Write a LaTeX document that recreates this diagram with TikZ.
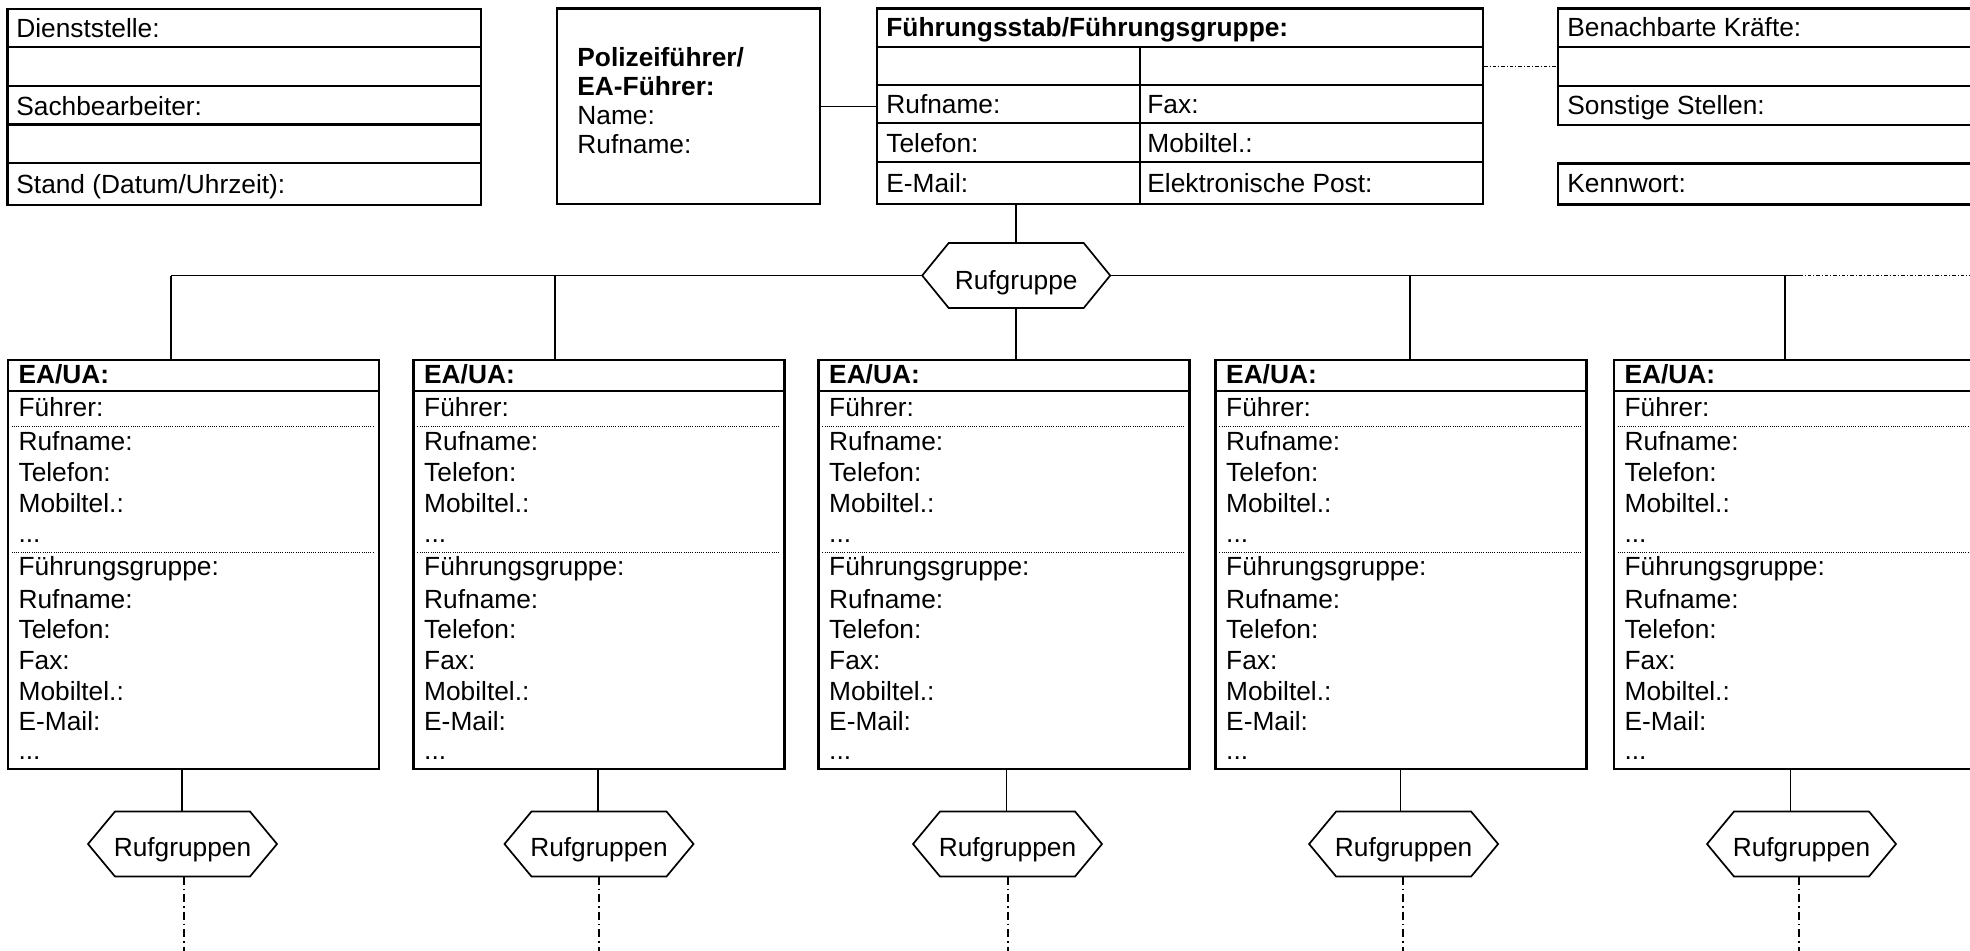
\documentclass[tikz,border=0pt]{standalone}
\usepackage{fontspec}
\setmainfont{Liberation Sans}
\newcommand\dfont{\fontsize{13.15}{15}\selectfont}
\newcommand\tridots{...}
\begin{document}
\begin{tikzpicture}[x=0.5pt,y=-0.5pt,
  box/.style={draw, line width=1.2pt, rectangle, inner sep=0pt, anchor=north west},
  rowline/.style={line width=1.2pt},
  conn/.style={line width=0.75pt},
  hexline/.style={line width=0.85pt, line join=miter},
  ddfine/.style={line width=0.5pt, dash pattern=on 1.75pt off 1pt on 0.5pt off 1pt},
  ddbig/.style={line width=0.7pt, dash pattern=on 4pt off 2pt on 0.75pt off 2pt},
  dotline/.style={line width=0.45pt, dash pattern=on 0.5pt off 0.6pt},
  txt/.style={anchor=base west, inner sep=0pt, font=\dfont},
  btxt/.style={anchor=base west, inner sep=0pt, font=\dfont\bfseries},
  hexbox/.style={minimum width=67.5pt, minimum height=32.5pt, inner sep=0pt},
  hextxt/.style={anchor=base, inner sep=0pt, font=\dfont}
]
\clip (0,0) rectangle (1970,950);
\fill[white] (0,0) rectangle (1970,950);

% --- box Dienststelle
\node[box, minimum width=236.6pt, minimum height=98pt] (ds) at (6.4,8) {};
\foreach \y in {47,86,124.5,163} \draw[rowline] (6.4,\y) -- (479.6,\y);
\node[txt] (ds1) at (16,37.5) {Dienststelle:};
\node[txt] (ds2) at (16,115) {Sachbearbeiter:};
\node[txt] (ds3) at (16,193) {Stand (Datum/Uhrzeit):};

% --- box Polizeifuehrer
\node[box, minimum width=131.5pt, minimum height=97.85pt] (pf) at (556,7.3) {};
\node[btxt] (pf1) at (577,66) {Polizeiführer/};
\node[btxt] (pf2) at (577,95) {EA-Führer:};
\node[txt] (pf3) at (577,124) {Name:};
\node[txt] (pf4) at (577,153) {Rufname:};

% --- box Fuehrungsstab
\node[box, minimum width=303.2pt, minimum height=97.85pt] (fs) at (875.6,7.3) {};
\foreach \y in {46.7,85,123,162} \draw[rowline] (875.6,\y) -- (1482,\y);
\draw[rowline] (1140,46.7) -- (1140,203.15);
\node[btxt] (fs0) at (886,36.5) {Führungsstab/Führungsgruppe:};
\node[txt] (fs1) at (886,113.5) {Rufname:};
\node[txt] (fs2) at (1147,113.5) {Fax:};
\node[txt] (fs3) at (886,152) {Telefon:};
\node[txt] (fs4) at (1147,152) {Mobiltel.:};
\node[txt] (fs5) at (886,192) {E-Mail:};
\node[txt] (fs6) at (1147,192) {Elektronische Post:};

% --- boxes right
\node[box, minimum width=225pt, minimum height=58.35pt] (bk) at (1556.6,7.3) {};
\foreach \y in {46.7,85.7} \draw[rowline] (1556.6,\y) -- (2010,\y);
\node[txt] (bk1) at (1567,36.5) {Benachbarte Kräfte:};
\node[txt] (bk2) at (1567,114.5) {Sonstige Stellen:};
\node[box, minimum width=225pt, minimum height=20.5pt] (kw) at (1556.6,162.3) {};
\node[txt] (kw1) at (1567,192) {Kennwort:};

% --- connectors top
\draw[conn] (pf.east) -- (fs.west);
\coordinate (fsr) at ([yshift=20pt]fs.east);
\draw[ddfine] (fsr) -- (fsr -| bk.west);

% --- Rufgruppe hexagon
\node[hexbox] (rg) at (1016.2,275.5) {};
\draw[hexline] (rg.center) ++(-67.5,-32.5) -- ++(135,0) -- ++(26.5,32.5) -- ++(-26.5,32.5) -- ++(-135,0) -- ++(-26.5,-32.5) -- cycle;
\node[hextxt] (rgt) at ([yshift=-7pt]rg.center) {Rufgruppe};
\coordinate (rgw) at ([xshift=-13.25pt]rg.west);
\coordinate (rge) at ([xshift=13.25pt]rg.east);
\draw[conn] (fs.south -| rg.north) -- (rg.north);

% --- EA boxes
\foreach \i/\x in {1/6.7,2/412.3,3/817.3,4/1214.3,5/1612.7} {
  \node[box, minimum width=185.5pt, minimum height=204.5pt] (ea\i) at (\x,359) {};
  \draw[rowline] (\x,390.7) -- ++(371,0);
  \draw[dotline] (\x+5,426) -- ++(361,0);
  \draw[dotline] (\x+5,552) -- ++(361,0);
  \node[btxt] (ea\i-0) at (\x+11.5,383) {EA/UA:};
  \foreach \t/\yy [count=\k] in {Führer:/416, Rufname:/450, Telefon:/481.5, Mobiltel.:/512, \tridots/542, Führungsgruppe:/575, Rufname:/608, Telefon:/638.5, Fax:/669, Mobiltel.:/700, E-Mail:/730.5, \tridots/759}
    \node[txt] (ea\i-\k) at (\x+11.5,\yy) {\t};
}

% --- bus
\coordinate (b1) at (171,275.5);
\coordinate (b2) at (555,275.5);
\coordinate (b4) at (1410,275.5);
\coordinate (b5) at (1785,275.5);
\coordinate (be) at (1799,275.5);
\coordinate (bx) at (1975,275.5);
\draw[conn] (b1) -- (rgw);
\draw[conn] (rge) -- (be);
\draw[ddfine] (be) -- (bx);
\draw[conn] (b1) -- (b1 |- ea1.north);
\draw[conn] (b2) -- (b2 |- ea2.north);
\draw[conn] (rg.south) -- (rg.south |- ea3.north);
\draw[conn] (b4) -- (b4 |- ea4.north);
\draw[conn] (b5) -- (b5 |- ea5.north);

% --- lower hexagons
\foreach \i/\hx/\vx/\dx in {1/182.5/182/184, 2/599/598/599, 3/1007.5/1006.7/1008, 4/1403.6/1400.4/1403, 5/1801.5/1790.6/1799} {
  \node[hexbox] (rgs\i) at (\hx,844) {};
  \draw[hexline] (rgs\i.center) ++(-67.5,-32.5) -- ++(135,0) -- ++(27,32.5) -- ++(-27,32.5) -- ++(-135,0) -- ++(-27,-32.5) -- cycle;
  \node[hextxt] (rgt\i) at ([yshift=-6pt]rgs\i.center) {Rufgruppen};
  \coordinate (v\i) at (\vx,768);
  \draw[conn] (v\i) -- (v\i |- rgs\i.north);
  \coordinate (d\i) at (\dx,876.5);
  \coordinate (e\i) at (\dx,955);
  \draw[ddbig] (d\i) -- (e\i);
}
\end{tikzpicture}
\end{document}
